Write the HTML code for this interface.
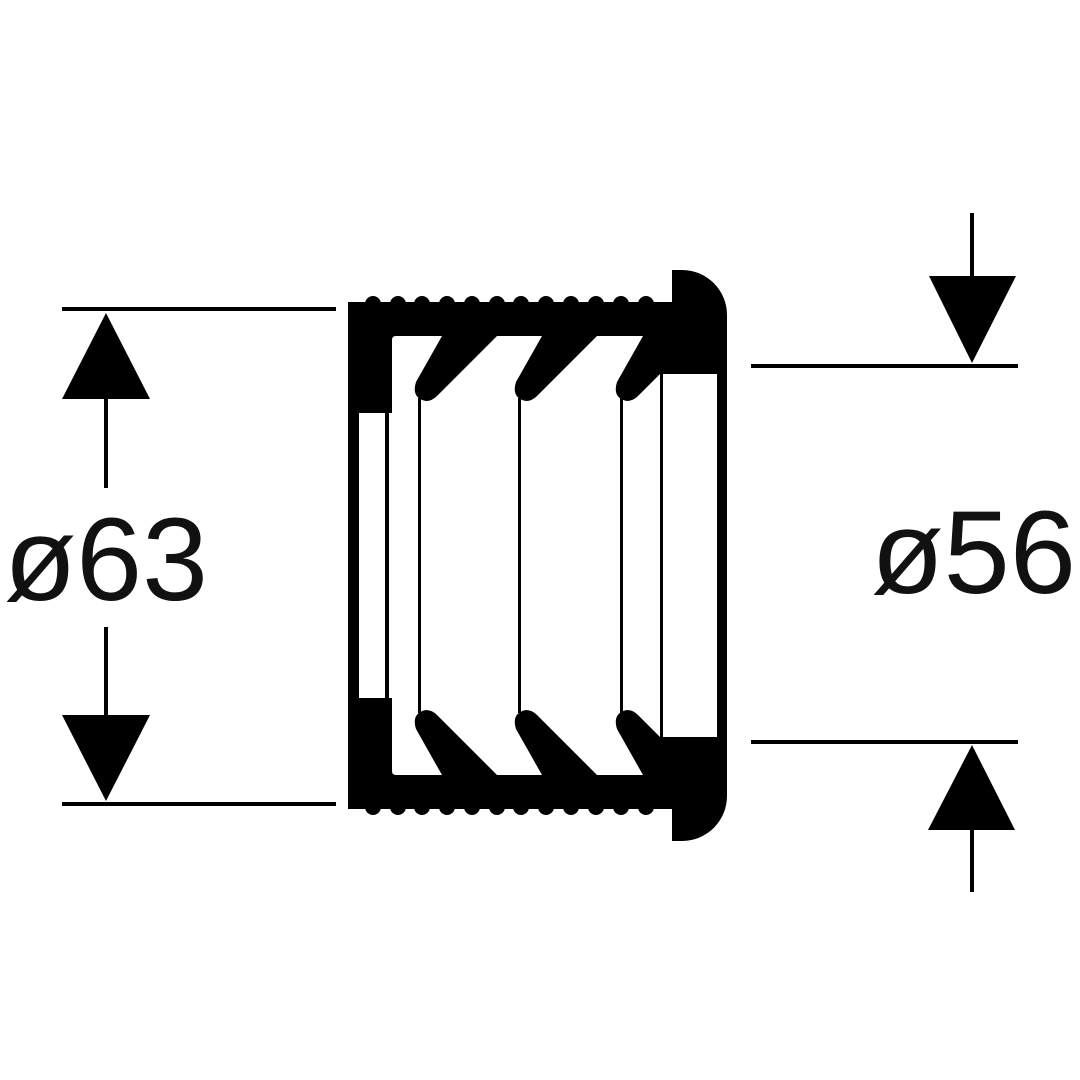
<!DOCTYPE html>
<html><head><meta charset="utf-8"><style>html,body{margin:0;padding:0;background:#fff}svg{display:block}</style></head>
<body>
<svg width="1080" height="1080" viewBox="0 0 1080 1080" xmlns="http://www.w3.org/2000/svg">
<rect width="1080" height="1080" fill="#fff"/>
<g id="half">
  <rect x="348" y="302" width="325" height="254" fill="#000"/>
  <path d="M672,270 H682 A45,45 0 0 1 727,315 V556 H672 Z" fill="#000"/>
  <g fill="#000">
    <circle cx="373" cy="304" r="8"/><circle cx="398" cy="304" r="8"/><circle cx="422" cy="304" r="8"/>
    <circle cx="447" cy="304" r="8"/><circle cx="472" cy="304" r="8"/><circle cx="497" cy="304" r="8"/>
    <circle cx="521" cy="304" r="8"/><circle cx="546" cy="304" r="8"/><circle cx="571" cy="304" r="8"/>
    <circle cx="596" cy="304" r="8"/><circle cx="621" cy="304" r="8"/><circle cx="646" cy="304" r="8"/>
  </g>
  <path d="M392,340 Q392,336 396,336 H660 V556 H389 V413 H392 Z" fill="#fff"/>
  <rect x="359" y="413" width="26" height="143" fill="#fff"/>
  <rect x="663" y="374" width="54" height="182" fill="#fff"/>
  <g fill="#000">
    <path d="M442,336 L416,382 Q411,398 426,401 Q432,401 437,396 L497,336 Z"/>
    <path d="M542,336 L516,382 Q511,398 526,401 Q532,401 537,396 L597,336 Z"/>
    <path d="M643,336 L617,382 Q612,398 627,401 Q633,401 638,396 L662,372 L662,336 Z"/>
  </g>
  <g stroke="#000" stroke-width="3">
    <line x1="419.5" y1="398" x2="419.5" y2="556"/>
    <line x1="519.5" y1="398" x2="519.5" y2="556"/>
    <line x1="621.5" y1="398" x2="621.5" y2="556"/>
  </g>
</g>
<use href="#half" transform="translate(0,1111) scale(1,-1)"/>
<g stroke="#000" stroke-width="4">
  <line x1="62" y1="309" x2="336" y2="309"/>
  <line x1="62" y1="804" x2="336" y2="804"/>
  <line x1="106" y1="398" x2="106" y2="488"/>
  <line x1="106" y1="627" x2="106" y2="717"/>
  <line x1="751" y1="366" x2="1018" y2="366"/>
  <line x1="751" y1="742" x2="1018" y2="742"/>
  <line x1="972" y1="213" x2="972" y2="278"/>
  <line x1="972" y1="828" x2="972" y2="892"/>
</g>
<g fill="#000">
  <polygon points="106,313 62,399 150,399"/>
  <polygon points="106,801 62,715 150,715"/>
  <polygon points="972,363 929,276 1016,276"/>
  <polygon points="972,745 928,830 1015,830"/>
</g>
<g font-family="Liberation Sans, sans-serif" font-size="118" fill="#111">
  <text x="4" y="600" textLength="204" lengthAdjust="spacingAndGlyphs">ø63</text>
  <text x="871" y="593" textLength="205" lengthAdjust="spacingAndGlyphs">ø56</text>
</g>
</svg>
</body></html>
